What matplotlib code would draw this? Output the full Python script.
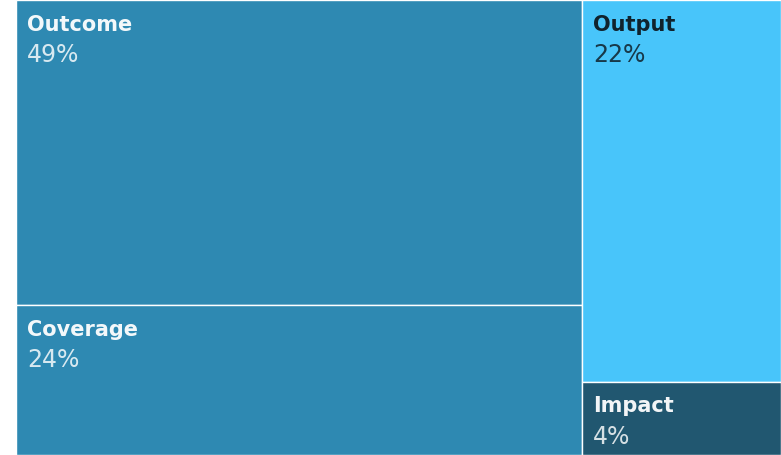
import matplotlib
matplotlib.use('Agg')
import matplotlib.pyplot as plt
from matplotlib.patches import Rectangle
import matplotlib.transforms as mtransforms

# data (shares, labels as printed)
groups = [['Outcome', 'Coverage'], ['Output', 'Impact']]
shares = {'Outcome': 49.6, 'Coverage': 24.4, 'Output': 21.8, 'Impact': 4.2}
pct_labels = {'Outcome': '49%', 'Coverage': '24%', 'Output': '22%', 'Impact': '4%'}
colors = {'Outcome': '#2e89b2', 'Coverage': '#2e89b2',
          'Output': '#48c5fa', 'Impact': '#215770'}
text_colors = {'Outcome': 'white', 'Coverage': 'white',
               'Output': '#0d1a22', 'Impact': 'white'}

W, H = 781, 455
fig = plt.figure(figsize=(W / 100, H / 100), dpi=100)
ax = fig.add_axes([16 / W, 0, 1 - 16 / W, 1])
ax.set_xlim(0, 1)
ax.set_ylim(1, 0)
ax.axis('off')

total = float(sum(shares.values()))
x0 = 0.0
for grp in groups:
    gsum = sum(shares[k] for k in grp)
    w = gsum / total
    y0 = 0.0
    for name in grp:
        h = shares[name] / float(gsum)
        ax.add_patch(Rectangle((x0, y0), w, h, facecolor=colors[name],
                               edgecolor='white', linewidth=1.0))
        tc = text_colors[name]
        t1 = mtransforms.offset_copy(ax.transData, fig=fig, x=11, y=-31, units='dots')
        ax.text(x0, y0, name, transform=t1, color=tc, fontsize=15,
                fontweight='bold', va='baseline', ha='left', alpha=0.95)
        t2 = mtransforms.offset_copy(ax.transData, fig=fig, x=11, y=-62, units='dots')
        ax.text(x0, y0, pct_labels[name], transform=t2, color=tc,
                alpha=0.82, fontsize=17, va='baseline', ha='left')
        y0 += h
    x0 += w

fig.savefig('out.png', dpi=100)
